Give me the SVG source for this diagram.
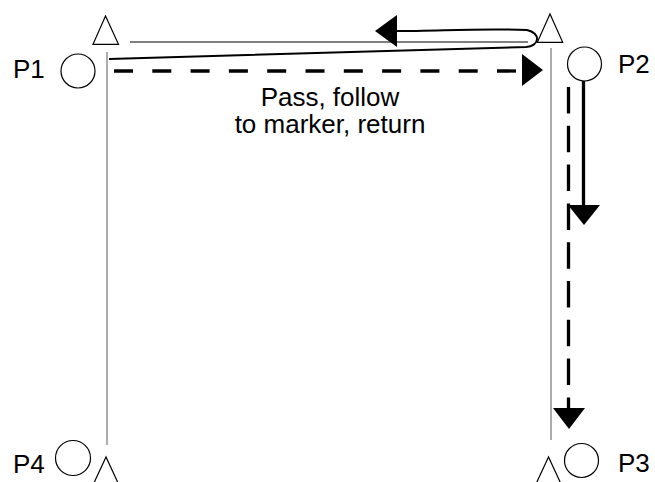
<svg xmlns="http://www.w3.org/2000/svg" width="655" height="482" viewBox="0 0 655 482">
<style>
.lbl{font-family:"Liberation Sans",Arial,sans-serif;font-size:26px;fill:#000}
.pt{fill:#fff;stroke:#000;stroke-width:1.2}
.guide{stroke:#808080;stroke-width:1.3;fill:none}
.thin{stroke:#000;stroke-width:1;fill:none}
.thick{stroke:#000;fill:none}
</style>
<rect width="655" height="482" fill="#fff"/>
<g id="guides">
<line class="guide" x1="107" y1="52" x2="107" y2="445"/>
<line class="guide" x1="551" y1="48" x2="551" y2="440"/>
</g>
<g id="P1">
<polygon class="pt" points="105.5,16 93,44.3 118.5,44.3"/>
<circle class="pt" cx="78" cy="71" r="17"/>
<text class="lbl" x="13" y="78">P1</text>
</g>
<g id="P2">
<polygon class="pt" points="550,14 537.3,42.3 562.7,42.3"/>
<circle class="pt" cx="584.5" cy="64" r="17"/>
<text class="lbl" x="618" y="73">P2</text>
</g>
<g id="P3">
<polygon class="pt" points="548.5,457 535.5,485 561.5,485"/>
<circle class="pt" cx="581.5" cy="460.5" r="17"/>
<text class="lbl" x="618" y="472">P3</text>
</g>
<g id="P4">
<polygon class="pt" points="106,457 93,485 119,485"/>
<circle class="pt" cx="73" cy="458" r="17.5"/>
<text class="lbl" x="13" y="473">P4</text>
</g>
<g id="connectors">
<line class="thin" x1="130" y1="42" x2="528" y2="42"/>
<path class="thick" stroke-width="2" d="M109,59 L526,47 C540,46 541,33 527,30 C480,28 440,31 396,31"/>
<polygon points="375,31 397,15 397,47" fill="#000"/>
<line class="thick" stroke-width="3.3" stroke-dasharray="19 19.3" x1="114" y1="71" x2="523" y2="71"/>
<polygon points="522,54 522,86 543,70" fill="#000"/>
<line class="thick" stroke-width="3.3" x1="583.5" y1="81" x2="583.5" y2="206"/>
<polygon points="568,205 600,205 584,225" fill="#000"/>
<line class="thick" stroke-width="3.3" stroke-dasharray="26.5 12.3" x1="568.5" y1="87" x2="568.5" y2="409"/>
<polygon points="553,408 585,408 569,429" fill="#000"/>
</g>
<g id="label">
<text class="lbl" x="330" y="106" text-anchor="middle">Pass, follow</text>
<text class="lbl" x="330" y="133" text-anchor="middle">to marker, return</text>
</g>
</svg>
